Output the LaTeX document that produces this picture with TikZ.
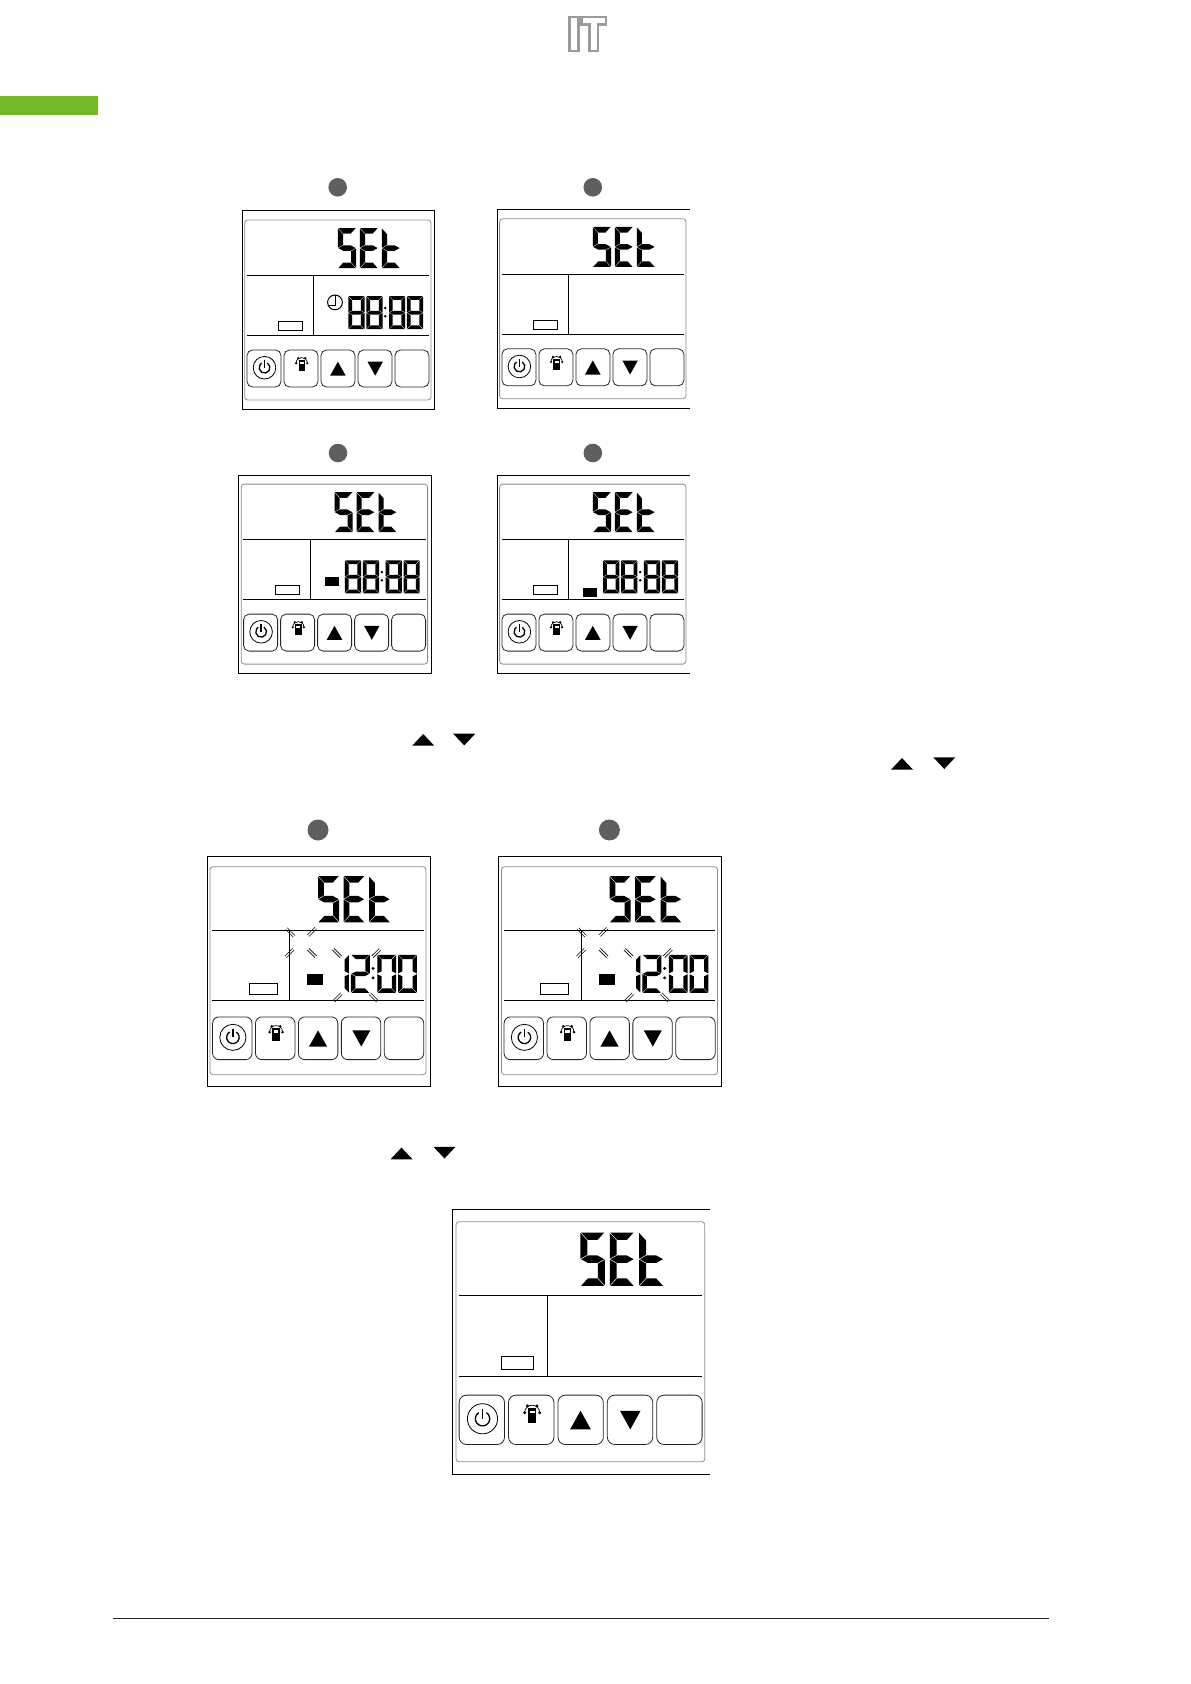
\documentclass[tikz,border=0pt]{standalone}
\usepackage{xcolor}
\usetikzlibrary{calc}
\definecolor{barG}{HTML}{76B82A}
\definecolor{logoG}{HTML}{9B9B9B}
\definecolor{dotG}{HTML}{5F5F5F}
\definecolor{innerG}{HTML}{8C8C8C}

% seven segments on a 10 x 20 grid, \st = thickness, \gp = gap
\def\gp{0.22}
\def\lcdsega{\fill (\gp,0) -- (10-\gp,0) -- (10-\st-\gp,\st) -- (\st+\gp,\st) -- cycle;}
\def\lcdsegd{\fill (\gp,20) -- (10-\gp,20) -- (10-\st-\gp,20-\st) -- (\st+\gp,20-\st) -- cycle;}
\def\lcdsegf{\fill (0,\gp) -- (\st,\st+\gp) -- (\st,10-\st/2-\gp) -- (0,10-\gp) -- cycle;}
\def\lcdsegb{\fill (10,\gp) -- (10-\st,\st+\gp) -- (10-\st,10-\st/2-\gp) -- (10,10-\gp) -- cycle;}
\def\lcdsege{\fill (0,10+\gp) -- (\st,10+\st/2+\gp) -- (\st,20-\st-\gp) -- (0,20-\gp) -- cycle;}
\def\lcdsegc{\fill (10,10+\gp) -- (10-\st,10+\st/2+\gp) -- (10-\st,20-\st-\gp) -- (10,20-\gp) -- cycle;}
\def\lcdsegg{\fill (\gp,10) -- (\st+\gp,10-\st/2) -- (10-\st-\gp,10-\st/2) -- (10-\gp,10) -- (10-\st-\gp,10+\st/2) -- (\st+\gp,10+\st/2) -- cycle;}
\newcommand{\lcddigit}[5]{%
  \begin{scope}[shift={(#1,#2)},xscale=#3/10,yscale=#4/20]
  \foreach \sg in {#5} {\csname lcdseg\sg\endcsname}
  \end{scope}}

% base of a panel, in the units of the first one
\newcommand{\lcdbase}{%
  \draw[innerbox] (2,9.3) rectangle (188.3,189.3);
  \draw[lcdline] (4,64.8) -- (186.3,64.8);
  \draw[lcdline] (4,125) -- (186.3,125);
  \draw[lcdline] (70.7,64.8) -- (70.7,125);
  \draw[lcdthin] (35.9,110.5) rectangle (60.1,120);
  \def\st{2.8}
  \lcddigit{95.2}{17.4}{18.2}{40}{a,f,g,c,d}
  \lcddigit{117.2}{17.4}{18.2}{40}{a,f,g,e,d}
  \lcddigit{139.2}{17.4}{18.2}{40}{f,g,e,d}
  \foreach \bx in {4.3,41.3,78.3,115.3,152.3} {\draw[btn] (\bx,139.3) rectangle (\bx+34,176.3);}
  % power
  \draw[lcdthin] (21.8,157) circle (11.3);
  \draw[line width=1.3pt] (21.8+2.9,157-4.6) arc[start angle=-58,end angle=238,radius=5.4];
  \draw[line width=1.3pt] (21.8,149.5) -- (21.8,157);
  % cup
  \draw[line width=0.7pt] (53.4,152.5) .. controls (53.4,145) and (64.6,145) .. (64.6,152.5);
  \foreach \cx/\cy in {53.4/152.5,64.6/152.5,55.4/147.4,62.6/147.4} {\fill (\cx,\cy) circle (1.2);}
  \fill (55.8,149.2) rectangle (62.2,160.4);
  \fill[white] (57,151) rectangle (61,153);
  % arrows
  \fill (87.4,165) -- (95.2,151) -- (103,165) -- cycle;
  \fill (124.8,151) -- (140.2,151) -- (132.5,165) -- cycle;}

% clock digits
\newcommand{\lcdtime}[4]{%
  \def\st{2.3}
  \lcddigit{105.6}{85.5}{16.2}{33}{#1}
  \lcddigit{123.6}{85.5}{16.2}{33}{#2}
  \lcddigit{146.3}{85.5}{16.2}{33}{#3}
  \lcddigit{164.2}{85.5}{16.2}{33}{#4}
  \fill (142.6,97.3) circle (1.4);
  \fill (142.6,105.5) circle (1.4);}

% blinking ticks, \fs = 1 for a falling one, -1 for a rising one
\newcommand{\lcdflash}{%
  \foreach \fx/\fy/\fs in {71.3/66.2/1,90/65.7/-1,70.7/84/-1,90/84/1,111.6/84/1,145.4/84/-1,112.1/122.5/-1,143.1/122.5/1} {
    \draw[lcdflashline] (\fx-3.3+\fs*0.7,\fy-3.3*\fs-0.7) -- (\fx+3.3+\fs*0.7,\fy+3.3*\fs-0.7);
    \draw[lcdflashline] (\fx-3.3-\fs*0.7,\fy-3.3*\fs+0.7) -- (\fx+3.3-\fs*0.7,\fy+3.3*\fs+0.7);}}

\begin{document}
\begin{tikzpicture}[x=1pt,y=-1pt,
  frame/.style={line width=1pt, draw=black},
  innerbox/.style={line width=0.8pt, draw=innerG, rounded corners=3pt},
  lcdline/.style={line width=1pt, draw=black},
  lcdthin/.style={line width=0.8pt, draw=black},
  lcdflashline/.style={line width=0.6pt, draw=black},
  panelpos/.style n args={4}{shift={(#1,#2)},xscale=#3,yscale=#4,
    btn/.style={line width=0.8pt, draw=black!85, rounded corners=#4*5.5pt}},
  ]
\useasboundingbox (0,0) rectangle (1191,1684);

% === page furniture
\fill[barG] (0,96) rectangle (98,115);
\draw[line width=2.4pt, draw=logoG] (569.3,17.2) rectangle (578.3,51);
\draw[line width=2.4pt, draw=logoG] (581.3,17.2) -- (606.1,17.2) -- (606.1,24.5) -- (597.8,24.5)
  -- (597.8,51) -- (589.6,51) -- (589.6,24.5) -- (581.3,24.5) -- cycle;
\draw[line width=1pt, draw=black!85] (113,1618.3) -- (1049,1618.3);

% === step dots
\foreach \dx/\dy in {337.7/187.3,592.8/187.3,338/453,592.8/453} {\fill[dotG] (\dx,\dy) circle (9.3);}
\foreach \dx/\dy in {318/830,609.4/830} {\fill[dotG] (\dx,\dy) circle (10.5);}

% === arrows between the panels
\foreach \ax/\ay in {412.2/745.7,891/769.7,390.5/1159.3} {\fill (\ax,\ay) -- (\ax+11,\ay-11.7) -- (\ax+22,\ay) -- cycle;}
\foreach \ax/\ay in {453.2/733.7,933.3/757.3,433.5/1146.8} {\fill (\ax,\ay) -- (\ax+22,\ay) -- (\ax+11,\ay+11.7) -- cycle;}

% === frames
\draw[frame] (242.7,210.7) rectangle (434,409.3);
\draw[frame] (238.3,475.3) rectangle (431.7,673.3);
\draw[frame] (207.3,856) rectangle (430.3,1086);
\draw[frame] (498.3,856) rectangle (721.7,1086);
\draw[frame] (690,209.5) -- (497.3,209.5) -- (497.3,408) -- (690,408);
\draw[frame] (690,475.3) -- (497.3,475.3) -- (497.3,673.3) -- (690,673.3);
\draw[frame] (710,1209.3) -- (452.7,1209.3) -- (452.7,1474.3) -- (710,1474.3);

% === first row
\begin{scope}[panelpos={242.7}{210.7}{1}{1}]
  \lcdbase
  \lcdtime{a,b,c,d,e,f,g}{a,b,c,d,e,f,g}{a,b,c,d,e,f,g}{a,b,c,d,e,f,g}
  \draw[line width=1pt] (92.3,91.7) circle (7.4);
  \draw[line width=1pt] (92.5,84.5) -- (92.5,95) -- (86.5,95);
\end{scope}
\begin{scope}[panelpos={497.6}{209.5}{1}{1}]
  \lcdbase
\end{scope}

% === second row
\begin{scope}[panelpos={239.3}{474.8}{1}{1}]
  \lcdbase
  \lcdtime{a,b,c,d,e,f,g}{a,b,c,d,e,f,g}{a,b,c,d,e,f,g}{a,b,c,d,e,f,g}
  \fill (85.7,101.7) rectangle (99.7,110.7);
\end{scope}
\begin{scope}[panelpos={497.6}{474.8}{1}{1}]
  \lcdbase
  \lcdtime{a,b,c,d,e,f,g}{a,b,c,d,e,f,g}{a,b,c,d,e,f,g}{a,b,c,d,e,f,g}
  \fill (85.4,112.7) rectangle (99.4,121.7);
\end{scope}

% === third row
\begin{scope}[panelpos={207.6}{856}{1.16}{1.155}]
  \lcdbase
  \lcdtime{b,c}{a,b,g,e,d}{a,b,c,d,e,f}{a,b,c,d,e,f}
  \fill (85.7,102.4) rectangle (99.5,111.6);
  \lcdflash
\end{scope}
\begin{scope}[panelpos={499.1}{856}{1.16}{1.155}]
  \lcdbase
  \lcdtime{b,c}{a,b,g,e,d}{a,b,c,d,e,f}{a,b,c,d,e,f}
  \fill (85.7,102.4) rectangle (99.5,111.6);
  \lcdflash
\end{scope}

% === last panel
\begin{scope}[panelpos={453.4}{1209.3}{1.335}{1.334}]
  \lcdbase
\end{scope}

\end{tikzpicture}
\end{document}
